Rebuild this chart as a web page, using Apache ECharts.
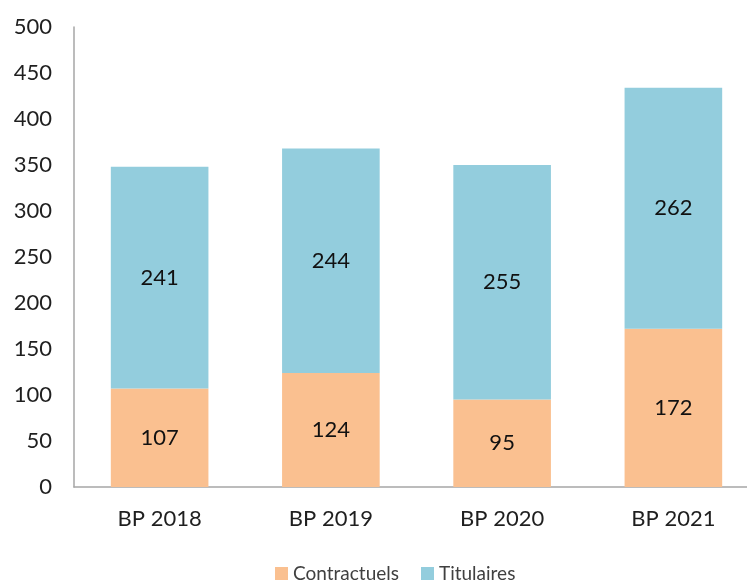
<!DOCTYPE html>
<html>
<head>
<meta charset="utf-8">
<script src="https://cdn.jsdelivr.net/npm/echarts@6/dist/echarts.min.js"></script>
<style>
  html, body { margin: 0; padding: 0; background: #fff; }
  #chart { width: 747px; height: 584px; }
</style>
</head>
<body>
<div id="chart"></div>
<script>
var categories = ["BP 2018", "BP 2019", "BP 2020", "BP 2021"];
var contractuels = [107, 124, 95, 172];
var titulaires = [241, 244, 255, 262];

var chart = echarts.init(document.getElementById("chart"));
var font = "Lato, 'Open Sans', sans-serif";
chart.setOption({
  animation: false,
  textStyle: { fontFamily: font },
  grid: { left: 74, width: 685, top: 27, bottom: 97, outerBoundsMode: "none", containLabel: false },
  legend: {
    bottom: -4,
    left: 270,
    itemWidth: 13,
    itemHeight: 13,
    itemGap: 22,
    icon: "rect",
    textStyle: { fontSize: 19, color: "#404040", fontFamily: font },
    data: ["Contractuels", "Titulaires"]
  },
  xAxis: {
    type: "category",
    data: categories,
    axisLine: { lineStyle: { color: "#a6a6a6", width: 1.5 } },
    axisTick: { show: false },
    axisLabel: { fontSize: 22, color: "#1f1f1f", margin: 21, fontFamily: font }
  },
  yAxis: {
    type: "value",
    min: 0,
    max: 500,
    interval: 50,
    axisLine: { show: true, lineStyle: { color: "#a6a6a6", width: 1.5 } },
    axisTick: { show: false },
    splitLine: { show: false },
    axisLabel: { fontSize: 22, color: "#1f1f1f", margin: 22, fontFamily: font }
  },
  series: [
    {
      name: "Contractuels",
      type: "bar",
      stack: "total",
      barWidth: "57%",
      data: contractuels,
      itemStyle: { color: "#fac090" },
      label: { show: true, position: "inside", fontSize: 22, color: "#111", fontFamily: font }
    },
    {
      name: "Titulaires",
      type: "bar",
      stack: "total",
      barWidth: "57%",
      data: titulaires,
      itemStyle: { color: "#93cddd" },
      label: { show: true, position: "inside", fontSize: 22, color: "#111", fontFamily: font }
    }
  ]
});
</script>
</body>
</html>
